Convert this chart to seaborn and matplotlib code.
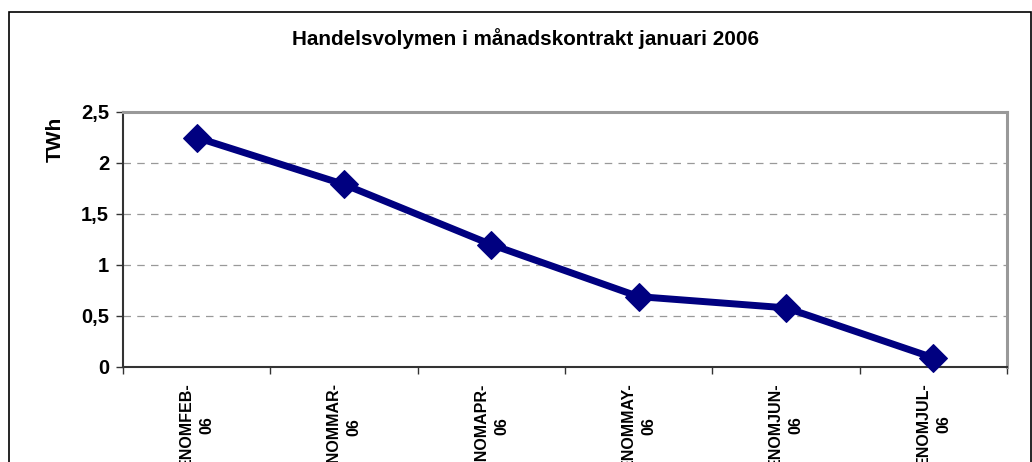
import pandas as pd
import matplotlib
matplotlib.use('Agg')
import matplotlib.pyplot as plt
import seaborn as sns
from matplotlib.patches import Rectangle

# Data
contracts = ['ENOMFEB-\n06', 'ENOMMAR-\n06', 'ENOMAPR-\n06',
             'ENOMMAY-\n06', 'ENOMJUN-\n06', 'ENOMJUL-\n06']
volume_twh = [2.25, 1.79, 1.20, 0.69, 0.58, 0.09]
y_ticks = [0, 0.5, 1, 1.5, 2, 2.5]
y_tick_labels = ['0', '0,5', '1', '1,5', '2', '2,5']

sns.set_style("white")
plt.rcParams['font.family'] = ['Liberation Sans', 'DejaVu Sans']
plt.rcParams['font.weight'] = 'bold'
plt.rcParams['text.color'] = 'black'
plt.rcParams['xtick.color'] = 'black'
plt.rcParams['ytick.color'] = 'black'

df = pd.DataFrame({'contract': contracts, 'volume': volume_twh})

fig = plt.figure(figsize=(10.32, 4.62), dpi=100)
ax = fig.add_axes([123/1032, 1 - 367/462, (1007 - 123)/1032, (367 - 112)/462])

# outer chart frame
fig.patches.append(Rectangle((8.5/1032, -0.1), (1031 - 8.5)/1032, 1.1 - 12/462,
                             transform=fig.transFigure, fill=False,
                             edgecolor='black', linewidth=1.2, zorder=0))

sns.lineplot(data=df, x='contract', y='volume', sort=False, ax=ax,
             color='#000080', linewidth=5.0, marker='D', markersize=14,
             markeredgecolor='#000080', clip_on=False, zorder=5)

ax.set_xlim(-0.5, len(contracts) - 0.5)
ax.set_ylim(0, 2.5)
ax.set_yticks(y_ticks)
ax.set_yticklabels(y_tick_labels, fontsize=14.5, fontweight='bold')

ax.set_xticks(range(len(contracts)))
ax.set_xticklabels(contracts, rotation=90, fontsize=11.5, fontweight='bold',
                   ha='center', va='top', multialignment='center',
                   linespacing=1.45)
ax.set_xticks([i - 0.5 for i in range(len(contracts) + 1)], minor=True)
ax.tick_params(axis='x', which='major', length=0, pad=11)
ax.tick_params(axis='x', which='minor', length=5, width=1, color='#333333',
               direction='out', bottom=True)
ax.tick_params(axis='y', length=5, width=1, color='#333333', direction='out',
               left=True, pad=5)

ax.set_xlabel('')
ax.set_ylabel('')

for y in y_ticks[1:-1]:
    ax.axhline(y, color='#999999', linestyle=(0, (6, 5)), linewidth=0.9, zorder=1)

for side in ['left', 'bottom']:
    ax.spines[side].set_color('#333333')
    ax.spines[side].set_linewidth(1.5)
for side in ['top', 'right']:
    ax.spines[side].set_color('#999999')
    ax.spines[side].set_linewidth(2.2)

fig.text(526/1032, 1 - 39/462, 'Handelsvolymen i månadskontrakt januari 2006',
         ha='center', va='center', fontsize=14.9, fontweight='bold')
fig.text(55/1032, 1 - 139/462, 'TWh', ha='center', va='center', rotation=90,
         fontsize=15, fontweight='bold')

fig.savefig('out.png', dpi=100)
